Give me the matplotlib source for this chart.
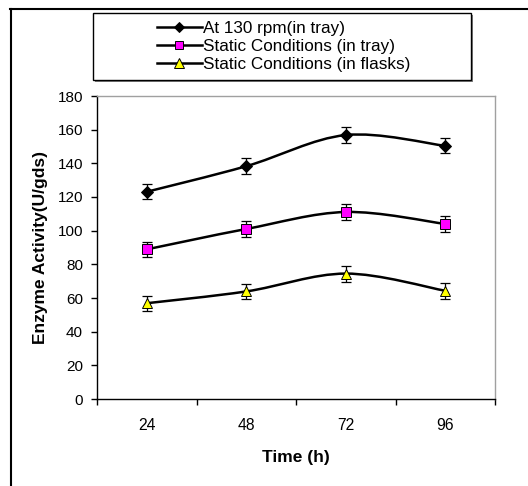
import matplotlib
matplotlib.use("Agg")
import matplotlib.pyplot as plt
from matplotlib.path import Path
from matplotlib.patches import PathPatch, Rectangle
from matplotlib.lines import Line2D
import numpy as np

plt.rcParams['font.family'] = ['Liberation Sans', 'DejaVu Sans']

categories = ["24", "48", "72", "96"]
rpm_tray = [123.1, 138.3, 156.8, 150.4]
rpm_tray_err = [4.4, 4.6, 4.9, 4.5]
static_tray = [88.9, 101.0, 111.1, 104.0]
static_tray_err = [4.4, 5.0, 4.75, 4.9]
static_flask = [56.9, 63.9, 74.5, 64.3]
static_flask_err = [4.5, 4.5, 4.75, 4.85]
labels = ["At 130 rpm(in tray)", "Static Conditions (in tray)", "Static Conditions (in flasks)"]
yticks = [0, 20, 40, 60, 80, 100, 120, 140, 160, 180]

W, H = 528, 486
fig = plt.figure(figsize=(W/100, H/100), dpi=100)
ax = fig.add_axes([97/W, 1-399/H, (495-97)/W, (399-96)/H])

x = np.arange(len(categories)) + 0.5


def smooth_path(xs, ys):
    pts = np.column_stack([xs, ys])
    n = len(pts)
    verts = [pts[0]]
    codes = [Path.MOVETO]
    for i in range(n-1):
        p0 = pts[i-1] if i > 0 else pts[i]
        p1 = pts[i]
        p2 = pts[i+1]
        p3 = pts[i+2] if i+2 < n else pts[i+1]
        c1 = p1 + (p2 - p0) / 6.0
        c2 = p2 - (p3 - p1) / 6.0
        verts += [c1, c2, p2]
        codes += [Path.CURVE4]*3
    return Path(verts, codes)


series = [
    (rpm_tray, rpm_tray_err, 'D', 'black', 6.5),
    (static_tray, static_tray_err, 's', '#ff00ff', 6.5),
    (static_flask, static_flask_err, '^', '#ffff00', 7.5),
]
handles = []
for (ys, err, m, fc, ms), lab in zip(series, labels):
    ax.add_patch(PathPatch(smooth_path(x, ys), fill=False, edgecolor='black', lw=1.8, zorder=2))
    ax.errorbar(x, ys, yerr=err, fmt='none', ecolor='black', elinewidth=0.9,
                capsize=3.5, capthick=0.9, zorder=3)
    ax.plot(x, ys, linestyle='none', marker=m, markersize=ms, markerfacecolor=fc,
            markeredgecolor='black', markeredgewidth=0.7, zorder=4)
    handles.append(Line2D([], [], color='black', lw=1.8, marker=m, markersize=ms-1,
                          markerfacecolor=fc, markeredgecolor='black', markeredgewidth=0.7))

ax.set_xlim(0, len(categories))
ax.set_ylim(0, 180)
ax.set_yticks(yticks)
ax.set_xticks(np.arange(len(categories)+1))
ax.set_xticklabels([])
ax.set_xticks(x, minor=True)
ax.set_xticklabels(categories, minor=True)
ax.tick_params(axis='x', which='minor', length=0, pad=14, labelsize=11.3)
ax.tick_params(axis='x', which='major', direction='out', length=4, width=1)
ax.tick_params(axis='y', direction='out', length=4, width=1, labelsize=11, pad=6)
for s in ['top', 'right']:
    ax.spines[s].set_color('#a0a0a0')
    ax.spines[s].set_linewidth(1)
for s in ['left', 'bottom']:
    ax.spines[s].set_color('black')
    ax.spines[s].set_linewidth(1)

ax.set_xlabel("Time (h)", fontsize=12.5, fontweight='bold', labelpad=12)
ax.set_ylabel("Enzyme Activity(U/gds)", fontsize=12.5, fontweight='bold', labelpad=7)

# legend box with shadow
lx0, ly0, lx1, ly1 = 93, 13, 471, 80
fig.add_artist(Rectangle((lx0/W+2/W, 1-ly1/H-2/H), (lx1-lx0)/W, (ly1-ly0)/H,
                         transform=fig.transFigure, facecolor='#808080', edgecolor='none', zorder=1))
fig.add_artist(Rectangle((lx0/W, 1-ly1/H), (lx1-lx0)/W, (ly1-ly0)/H,
                         transform=fig.transFigure, facecolor='white', edgecolor='black', lw=1, zorder=2))
leg = fig.legend(handles, labels, loc='center', bbox_to_anchor=(284/W, 1-46.5/H),
                 frameon=False, fontsize=12.3, handlelength=2.6, handletextpad=0.1,
                 labelspacing=0.2, borderpad=0)
leg.set_zorder(3)

# outer frame
fig.add_artist(Line2D([10.5/W, 10.5/W], [1-9/H, 0], transform=fig.transFigure, color='black', lw=1.5))
fig.add_artist(Line2D([10/W, 1], [1-9.5/H, 1-9.5/H], transform=fig.transFigure, color='black', lw=1.5))

fig.savefig("out.png", dpi=100)
